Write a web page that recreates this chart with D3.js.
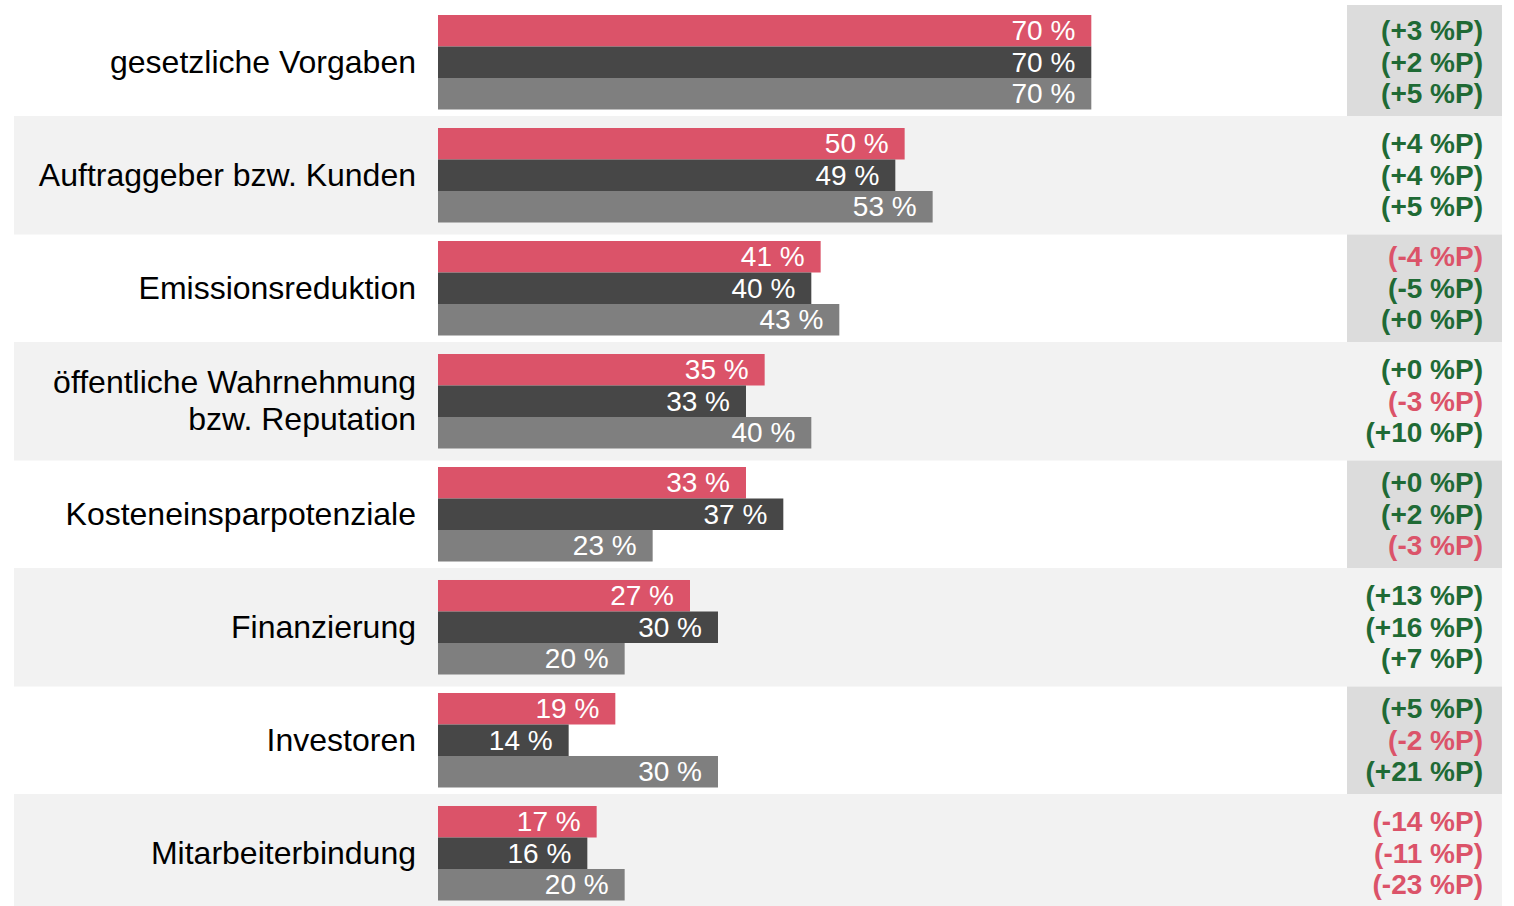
<!DOCTYPE html>
<html>
<head>
<meta charset="utf-8">
<script src="https://cdn.jsdelivr.net/npm/d3@7"></script>
<style>
  body { margin: 0; background: #fff; }
  text { font-family: "Liberation Sans", Arial, sans-serif; }
</style>
</head>
<body>
<script>
var width = 1514,
    height = 906;

var categories = [
  ["gesetzliche Vorgaben"],
  ["Auftraggeber bzw. Kunden"],
  ["Emissionsreduktion"],
  ["öffentliche Wahrnehmung", "bzw. Reputation"],
  ["Kosteneinsparpotenziale"],
  ["Finanzierung"],
  ["Investoren"],
  ["Mitarbeiterbindung"]
];
var series = ["a", "b", "c"];

var valuesA = [70, 50, 41, 35, 33, 27, 19, 17];
var valuesB = [70, 49, 40, 33, 37, 30, 14, 16];
var valuesC = [70, 53, 43, 40, 23, 20, 30, 20];

var deltasA = ["+3", "+4", "-4", "+0", "+0", "+13", "+5", "-14"];
var deltasB = ["+2", "+4", "-5", "-3", "+2", "+16", "-2", "-11"];
var deltasC = ["+5", "+5", "+0", "+10", "-3", "+7", "+21", "-23"];

// g = green, r = red (as coloured in the original)
var toneA = ["g", "g", "r", "g", "g", "g", "g", "r"];
var toneB = ["g", "g", "g", "r", "g", "g", "r", "r"];
var toneC = ["g", "g", "g", "g", "r", "g", "g", "r"];

var barColor = { a: "#db5369", b: "#474747", c: "#7f7f7f" };
var toneColor = { g: "#1f6a35", r: "#db5369" };

var rows = categories.map(function(c, i) {
  return {
    idx: i,
    label: c,
    bars: [
      { s: "a", v: valuesA[i], d: deltasA[i], t: toneA[i] },
      { s: "b", v: valuesB[i], d: deltasB[i], t: toneB[i] },
      { s: "c", v: valuesC[i], d: deltasC[i], t: toneC[i] }
    ]
  };
});

var svg = d3.select("body").append("svg")
    .attr("width", width)
    .attr("height", height);

var step = 113;
var y = d3.scaleBand()
    .domain(d3.range(categories.length))
    .range([5.75, 5.75 + step * categories.length])
    .paddingInner(0.1637)
    .paddingOuter(0.0819);

var y1 = d3.scaleBand()
    .domain(series)
    .range([0, y.bandwidth()]);

var x = d3.scaleLinear()
    .domain([0, 100])
    .range([438, 438 + 933.3]);

// row backgrounds
rows.forEach(function(r) {
  var top = y(r.idx), bot = top + y.bandwidth();
  if (r.idx % 2 === 1) {
    svg.append("rect")
        .attr("x", 14).attr("y", top - 12)
        .attr("width", 1502 - 14).attr("height", bot - top + 24)
        .attr("fill", "#f2f2f2");
  } else {
    var y0 = r.idx === 0 ? top - 10 : top - (step - y.bandwidth()) + 12;
    var yEnd = r.idx === categories.length - 1 ? height : top + step - 12;
    svg.append("rect")
        .attr("x", 1347).attr("y", y0)
        .attr("width", 1502 - 1347).attr("height", yEnd - y0)
        .attr("fill", "#dcdcdc");
  }
});

var row = svg.selectAll(".row")
    .data(rows)
    .enter().append("g")
    .attr("class", "row")
    .attr("transform", function(d) { return "translate(0," + y(d.idx) + ")"; });

// category labels
row.append("text")
    .attr("x", 416)
    .attr("text-anchor", "end")
    .attr("font-size", 32)
    .attr("fill", "#000")
    .each(function(d) {
      var t = d3.select(this);
      var n = d.label.length;
      d.label.forEach(function(line, k) {
        t.append("tspan")
            .attr("x", 416)
            .attr("y", y.bandwidth() / 2 + 10.5 + (k - (n - 1) / 2) * 37)
            .text(line);
      });
    });

var bar = row.selectAll(".bar")
    .data(function(d) { return d.bars; })
    .enter().append("g")
    .attr("class", "bar")
    .attr("transform", function(d) { return "translate(0," + y1(d.s) + ")"; });

bar.append("rect")
    .attr("x", x(0))
    .attr("y", 0)
    .attr("width", function(d) { return x(d.v) - x(0); })
    .attr("height", y1.bandwidth())
    .attr("fill", function(d) { return barColor[d.s]; });

bar.append("text")
    .attr("x", function(d) { return x(d.v) - 16; })
    .attr("y", y1.bandwidth() / 2 + 9.5)
    .attr("text-anchor", "end")
    .attr("font-size", 28)
    .attr("fill", "#fff")
    .text(function(d) { return d.v + " %"; });

bar.append("text")
    .attr("x", 1483)
    .attr("y", y1.bandwidth() / 2 + 9.5)
    .attr("text-anchor", "end")
    .attr("font-size", 28)
    .attr("font-weight", "bold")
    .attr("fill", function(d) { return toneColor[d.t]; })
    .text(function(d) { return "(" + d.d + " %P)"; });
</script>
</body>
</html>
